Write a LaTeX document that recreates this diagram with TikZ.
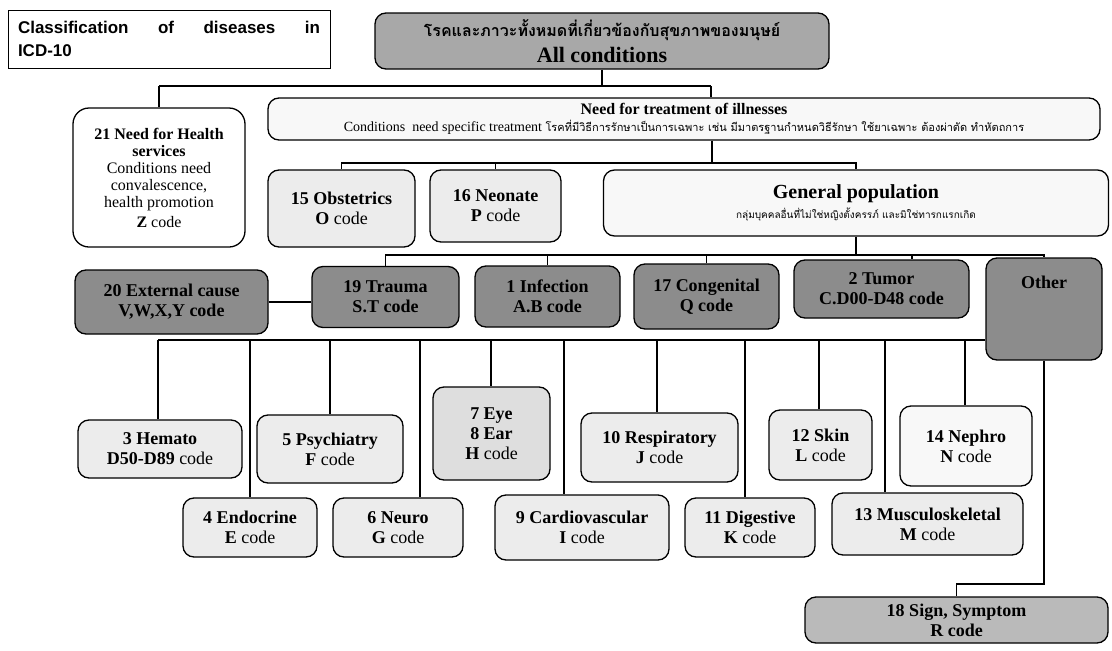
\documentclass[tikz,border=0pt]{standalone}
\usepackage{fontspec}
\setmainfont{Liberation Serif}
\newfontfamily\headfont{Liberation Sans}
\newfontfamily\thaifont[Script=Thai]{Loma}
\definecolor{darkdither}{RGB}{140,140,140}
\definecolor{alldither}{RGB}{168,168,168}
\definecolor{signdither}{RGB}{186,186,186}
\definecolor{dotfill}{RGB}{236,236,236}
\definecolor{eyefill}{RGB}{222,222,222}
\definecolor{palefill}{RGB}{248,248,248}

\begin{document}
\begin{tikzpicture}[
  x=1pt, y=-1pt,
  box/.style={draw, line width=1.3pt, rounded corners=11pt, align=center, inner sep=2pt, font=\fontsize{18}{20}\selectfont},
  plainbox/.style={box, fill=white},
  dotbox/.style={box, fill=dotfill},
  darkbox/.style={box, fill=darkdither, font=\bfseries\fontsize{18}{20}\selectfont},
  link/.style={line width=1.8pt}
]
\useasboundingbox[fill=white] (0,0) rectangle (1112,651);

% title and the root
\node[plainbox, rounded corners=0pt, line width=1pt, minimum width=322pt, minimum height=58pt, text width=302pt, align=justify, font=\headfont\bfseries\fontsize{17}{23}\selectfont] (title) at (169,39) {Classification of diseases in\linebreak ICD-10};
\node[box, fill=alldither, minimum width=454pt, minimum height=56pt, font=\fontsize{16}{26}\selectfont] (all) at (602,41) {{\thaifont\bfseries โรคและภาวะทั้งหมดที่เกี่ยวข้องกับสุขภาพของมนุษย์}\\{\bfseries\fontsize{22}{22}\selectfont All conditions}};

% second level
\node[plainbox, rounded corners=16pt, minimum width=172pt, minimum height=139pt, font=\fontsize{16}{17}\selectfont] (svc) at (159,177.5) {\textbf{21 Need for Health}\\\textbf{services}\\Conditions need\\convalescence,\\health promotion\\[3pt]\textbf{Z} code};
\node[box, fill=palefill, minimum width=832pt, minimum height=42pt, font=\fontsize{14}{17}\selectfont] (need) at (684,119) {{\bfseries\fontsize{16}{16}\selectfont Need for treatment of illnesses}\\Conditions\ \ need specific treatment {\thaifont\fontsize{11}{12}\selectfont โรคที่มีวิธีการรักษาเป็นการเฉพาะ เช่น มีมาตรฐานกำหนดวิธีรักษา ใช้ยาเฉพาะ ต้องผ่าตัด ทำหัตถการ}};

% third level
\node[dotbox, minimum width=147pt, minimum height=77pt] (obst) at (341.5,208.5) {\textbf{15 Obstetrics}\\\textbf{O} code};
\node[dotbox, minimum width=131pt, minimum height=72pt] (neo) at (495.5,206) {\textbf{16 Neonate}\\\textbf{P} code};
\node[box, fill=palefill, minimum width=505pt, minimum height=66pt] (gp) at (856,203) {{\bfseries\fontsize{20}{20}\selectfont General population}\\{\thaifont\fontsize{10}{11}\selectfont กลุ่มบุคคลอื่นที่ไม่ใช่หญิงตั้งครรภ์ และมิใช่ทารกแรกเกิด}};

% groups
\node[darkbox, minimum width=193pt, minimum height=64pt] (ext) at (171.5,302) {20 External cause\\V,W,X,Y code};
\node[darkbox, minimum width=147pt, minimum height=61pt] (trauma) at (385.5,297) {19 Trauma\\S.T code};
\node[darkbox, minimum width=145pt, minimum height=61pt] (infect) at (547.5,296.5) {1 Infection\\A.B code};
\node[darkbox, minimum width=145pt, minimum height=65pt] (congen) at (706.5,296.5) {17 Congenital\\Q code};
\node[darkbox, minimum width=175pt, minimum height=58pt] (tumor) at (881.5,289) {2 Tumor\\C.D00-D48 code};
\node[darkbox, minimum width=116pt, minimum height=102pt, text depth=54pt] (other) at (1044,309) {Other};

% organ systems
\node[dotbox, minimum width=164pt, minimum height=58pt] (hemato) at (160,449) {\textbf{3 Hemato}\\\textbf{D50-D89} code};
\node[dotbox, minimum width=146pt, minimum height=68pt] (psych) at (330,449) {\textbf{5 Psychiatry}\\\textbf{F} code};
\node[box, fill=eyefill, minimum width=117pt, minimum height=93pt] (eye) at (491.5,433.5) {\textbf{7 Eye}\\\textbf{8 Ear}\\\textbf{H} code};
\node[dotbox, minimum width=157pt, minimum height=69pt] (resp) at (659.5,447.5) {\textbf{10 Respiratory}\\\textbf{J} code};
\node[dotbox, minimum width=103pt, minimum height=70pt] (skin) at (820.5,445) {\textbf{12 Skin}\\\textbf{L} code};
\node[box, fill=palefill, minimum width=132pt, minimum height=80pt] (nephro) at (966,446) {\textbf{14 Nephro}\\\textbf{N} code};
\node[dotbox, minimum width=134pt, minimum height=59pt] (endo) at (250,527.5) {\textbf{4 Endocrine}\\\textbf{E} code};
\node[dotbox, minimum width=130pt, minimum height=59pt] (neuro) at (398,527.5) {\textbf{6 Neuro}\\\textbf{G} code};
\node[dotbox, minimum width=174pt, minimum height=65pt] (cardio) at (582,527.5) {\textbf{9 Cardiovascular}\\\textbf{I} code};
\node[dotbox, minimum width=130pt, minimum height=59pt] (digest) at (750,527.5) {\textbf{11 Digestive}\\\textbf{K} code};
\node[dotbox, minimum width=191pt, minimum height=62pt] (musculo) at (927.5,524) {\textbf{13 Musculoskeletal}\\\textbf{M} code};
\node[box, fill=signdither, font=\bfseries\fontsize{18}{20}\selectfont, minimum width=303pt, minimum height=46pt] (sign) at (956.5,620) {18 Sign, Symptom\\R code};

% connectors
\coordinate (busA) at (159,86);
\coordinate (busB) at (711,86);
\draw[link] (all.south) -- (all.south |- busA);
\draw[link] (busA) -- (busB);
\draw[link] (busA) -- (svc.north);
\draw[link] (busB) -- (busB |- need.north);

\coordinate (busC) at (712,163);
\draw[link] (busC |- need.south) -- (busC);
\draw[link] (obst.north) -- (obst.north |- busC) -- (gp.north |- busC) -- (gp.north);
\draw[link] (neo.north) -- (neo.north |- busC);

\coordinate (busD) at (858,255);
\coordinate (tumortap) at (912,255);
\draw[link] (gp.south) -- (gp.south |- busD);
\draw[link] (trauma.north) -- (trauma.north |- busD) -- (other.north |- busD) -- (other.north);
\draw[link] (infect.north) -- (infect.north |- busD);
\draw[link] (congen.north) -- (congen.north |- busD);
\draw[link] (tumortap) -- (tumortap |- tumor.north);
\draw[link] (ext.east) -- (ext.east -| trauma.west);

\coordinate (busE) at (158,340);
\draw[link] (busE) -- (busE -| other.west);
\foreach \tx/\tn in {158/hemato, 250/endo, 330/psych, 420/neuro, 491/eye, 564/cardio, 657/resp, 745/digest, 819/skin, 885/musculo, 965/nephro}
  \draw[link] (\tx,340) -- (\tx,340 |- \tn.north);
\draw[link] (other.south) -- ++(0,223) -| (sign.north);
\end{tikzpicture}
\end{document}
